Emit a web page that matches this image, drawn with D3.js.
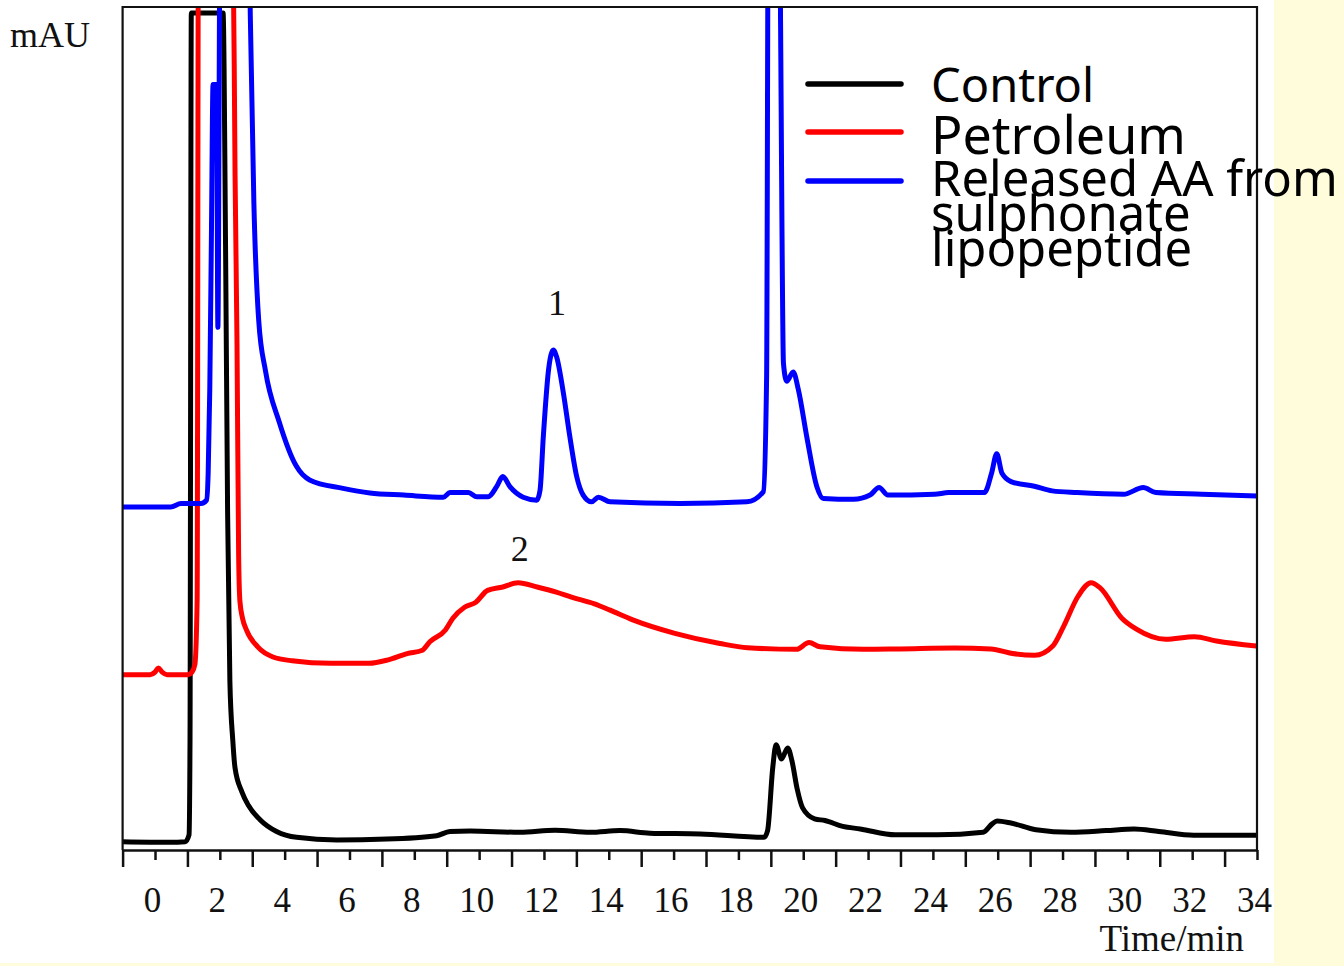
<!doctype html>
<html>
<head>
<meta charset="utf-8">
<script src="https://cdn.jsdelivr.net/npm/d3@7"></script>
<style>
  body { margin: 0; background: #fff; }
  svg { display: block; }
  .serif { font-family: "Liberation Serif", "Times New Roman", serif; fill: #111; }
  .legend text { font-family: "Noto Sans", sans-serif; fill: #000; }
  .trace { fill: none; stroke-width: 5px; stroke-linejoin: round; stroke-linecap: round; }
</style>
</head>
<body>
<script>
  // chromatograms: [time (min), signal (relative mAU)]
  var control = [
    [-1.00, 0.98], [0.46, 0.91], [0.93, 0.98], [1.05, 1.8], [1.08, 13], [1.12, 99.3],
    [2.10, 99.3], [2.18, 70], [2.24, 40], [2.31, 20], [2.40, 13], [2.47, 9.7],
    [2.68, 6.9], [2.88, 5.3], [3.24, 3.6], [3.75, 2.2], [4.37, 1.5], [5.61, 1.2],
    [7.15, 1.3], [8.69, 1.7], [9.10, 2.2], [9.72, 2.25], [11.26, 2.1], [12.34, 2.35],
    [13.42, 2.1], [14.35, 2.3], [15.27, 2.0], [16.82, 1.9], [18.79, 1.5], [18.90, 2.3],
    [19.06, 9.8], [19.16, 12.5], [19.33, 10.8], [19.52, 12.1], [19.65, 10.6], [19.81, 7.3],
    [19.98, 5.0], [20.35, 3.7], [20.67, 3.5], [21.22, 2.8], [21.76, 2.5], [22.84, 1.8],
    [24.14, 1.8], [25.55, 2.1], [25.83, 3.1], [25.98, 3.45], [26.41, 3.2], [27.18, 2.4],
    [28.26, 2.1], [29.34, 2.3], [30.21, 2.5], [30.97, 2.2], [32.05, 1.75], [34.00, 1.75]
  ];

  var petroleum = [
    [-1.00, 20.8], [-0.15, 20.8], [0.00, 21.1], [0.10, 21.6], [0.22, 21.1], [0.37, 20.8],
    [1.02, 20.8], [1.14, 21.1], [1.23, 22], [1.30, 29.7], [1.34, 110], [2.40, 110],
    [2.47, 80], [2.53, 60], [2.58, 35], [2.62, 29.5], [2.70, 27.5], [2.82, 26.1],
    [3.17, 24.1], [3.64, 22.9], [4.23, 22.45], [5.42, 22.15], [6.60, 22.15], [7.19, 22.55],
    [7.78, 23.3], [8.25, 23.7], [8.48, 24.7], [8.96, 26.1], [9.19, 27.5], [9.55, 28.8],
    [9.90, 29.4], [10.26, 30.8], [10.73, 31.2], [11.20, 31.7], [11.79, 31.2], [12.38, 30.6],
    [12.85, 30.0], [13.56, 29.2], [14.04, 28.45], [14.74, 27.3], [16.04, 25.7], [17.43, 24.5],
    [18.28, 24.0], [19.79, 23.8], [20.18, 24.6], [20.52, 24.1], [21.86, 23.8], [22.99, 23.85],
    [24.67, 23.95], [25.79, 23.85], [26.46, 23.3], [27.14, 23.1], [27.70, 24.2], [28.03, 26.5],
    [28.48, 30.1], [28.88, 31.7], [29.16, 31.1], [29.83, 27.5], [30.28, 26.2], [31.18, 25.0],
    [32.07, 25.3], [32.75, 24.8], [33.98, 24.2]
  ];

  var released = [
    [-1.00, 40.7], [0.49, 40.7], [0.80, 41.1], [1.42, 41.1], [1.59, 41.5], [1.64, 44.7],
    [1.69, 54.7], [1.74, 72.8], [1.79, 90.8], [1.90, 90.8], [1.94, 62.0], [2.01, 110],
    [2.90, 110], [2.94, 99], [3.05, 76.8], [3.20, 62.8], [3.41, 56.8], [3.83, 50.8],
    [4.35, 45.6], [4.77, 43.9], [5.80, 42.9], [6.63, 42.35], [7.68, 42.1], [8.90, 41.85],
    [9.10, 42.4], [9.67, 42.4], [9.93, 41.9], [10.28, 41.9], [10.54, 43.1], [10.73, 44.3],
    [10.95, 43.1], [11.36, 41.85], [11.78, 41.5], [11.88, 42.7], [11.98, 49.0], [12.14, 56.9],
    [12.29, 59.3], [12.39, 58.5], [12.60, 54.2], [12.80, 49.0], [13.01, 44.3], [13.21, 42.1],
    [13.47, 41.3], [13.68, 41.85], [14.04, 41.3], [16.20, 41.1], [18.26, 41.3], [18.77, 42.5],
    [18.87, 56.1], [18.92, 110], [19.26, 110], [19.39, 57.7], [19.49, 55.6], [19.69, 56.7],
    [19.85, 54.6], [20.11, 49.0], [20.42, 43.1], [20.62, 41.7], [21.55, 41.6], [22.06, 42.1],
    [22.34, 43.0], [22.61, 42.1], [24.05, 42.2], [24.49, 42.4], [25.59, 42.4], [25.81, 44.7],
    [25.97, 47.0], [26.13, 44.7], [26.41, 43.7], [27.13, 43.15], [27.68, 42.6], [28.45, 42.4],
    [29.89, 42.2], [30.49, 43.0], [30.88, 42.4], [32.30, 42.2], [34.00, 42.0]
  ];

  var xTicks = d3.range(-1, 35);          // minor ticks every minute, labels on even minutes
  var seriesNames = ['Control', 'Petroleum', 'Released AA from sulphonate lipopeptide'];
  var seriesColors = ['#000000', '#ff0000', '#0000ff'];
  var peakLabels = [{ text: '1', t: 12.4, v: 63.5 }, { text: '2', t: 11.25, v: 34.3 }];

  var width = 1344,
      height = 966;

  var svg = d3.select('body').append('svg')
      .attr('width', width)
      .attr('height', height);

  // pale yellow slide background showing at the right and bottom edges
  svg.append('rect').attr('width', width).attr('height', height).attr('fill', '#fffcdc');
  svg.append('rect').attr('width', 1274).attr('height', 963).attr('fill', '#fff');

  var plotLeft = 122.6, plotRight = 1257, plotTop = 7, plotBottom = 850;

  var x = d3.scaleLinear().domain([-1, 34]).range([plotLeft, plotRight]);
  var y = d3.scaleLinear().domain([0, 100]).range([plotBottom, plotTop]);

  svg.append('clipPath').attr('id', 'plot')
    .append('rect')
      .attr('x', plotLeft).attr('y', plotTop)
      .attr('width', plotRight - plotLeft).attr('height', plotBottom - plotTop);

  var line = d3.line()
      .curve(d3.curveMonotoneX)
      .x(function (d) { return x(d[0]); })
      .y(function (d) { return y(d[1]); });

  var traces = svg.append('g').attr('clip-path', 'url(#plot)');
  [control, petroleum, released].forEach(function (data, i) {
    traces.append('path')
        .datum(data)
        .attr('class', 'trace')
        .attr('stroke', seriesColors[i])
        .attr('d', line);
  });

  // frame
  svg.append('path')
      .attr('d', 'M' + plotLeft + ',' + plotBottom + 'V' + plotTop + 'H' + plotRight + 'V' + plotBottom)
      .attr('fill', 'none')
      .attr('stroke', '#111')
      .attr('stroke-width', 2.2);

  var xAxis = svg.append('g')
      .attr('transform', 'translate(0,' + plotBottom + ')')
      .call(d3.axisBottom(x)
        .tickValues(xTicks)
        .tickSizeOuter(0)
        .tickFormat(function (d) { return d % 2 === 0 ? d : ''; }));

  xAxis.select('.domain').attr('stroke', '#111').attr('stroke-width', 2.5);
  xAxis.selectAll('.tick line')
      .attr('stroke', '#111')
      .attr('stroke-width', 2.5)
      .attr('y2', function (d) { return d % 2 === 0 ? 10 : 17; });
  xAxis.selectAll('.tick text')
      .attr('class', 'serif')
      .attr('y', 62)
      .attr('dy', 0)
      .attr('dx', -3)
      .style('font-size', '35px');

  svg.append('text')
      .attr('class', 'serif')
      .attr('x', 1244).attr('y', 951)
      .attr('text-anchor', 'end')
      .style('font-size', '37px')
      .text('Time/min');

  svg.append('text')
      .attr('class', 'serif')
      .attr('x', 10).attr('y', 47)
      .style('font-size', '36px')
      .text('mAU');

  svg.selectAll('.peak')
      .data(peakLabels)
    .enter().append('text')
      .attr('class', 'serif peak')
      .attr('x', function (d) { return x(d.t); })
      .attr('y', function (d) { return y(d.v); })
      .attr('text-anchor', 'middle')
      .style('font-size', '36px')
      .text(function (d) { return d.text; });

  // legend
  var legend = svg.append('g').attr('class', 'legend');
  var legendY = [84, 132, 181];
  seriesNames.forEach(function (name, i) {
    legend.append('line')
        .attr('x1', 808).attr('x2', 901)
        .attr('y1', legendY[i]).attr('y2', legendY[i])
        .attr('stroke', seriesColors[i])
        .attr('stroke-width', 5.5)
        .attr('stroke-linecap', 'round');
  });

  legend.append('text').attr('x', 931).attr('y', 102)
      .style('font-size', '47px').text(seriesNames[0]);
  legend.append('text').attr('x', 931).attr('y', 154)
      .style('font-size', '52px').text(seriesNames[1]);

  var wrapped = ['Released AA from', 'sulphonate', 'lipopeptide'];
  legend.append('text')
      .attr('x', 931).attr('y', 196)
      .style('font-size', '49px')
    .selectAll('tspan')
      .data(wrapped)
    .enter().append('tspan')
      .attr('x', 931)
      .attr('dy', function (d, i) { return i === 0 ? 0 : 35; })
      .text(function (d) { return d; });
</script>
</body>
</html>
